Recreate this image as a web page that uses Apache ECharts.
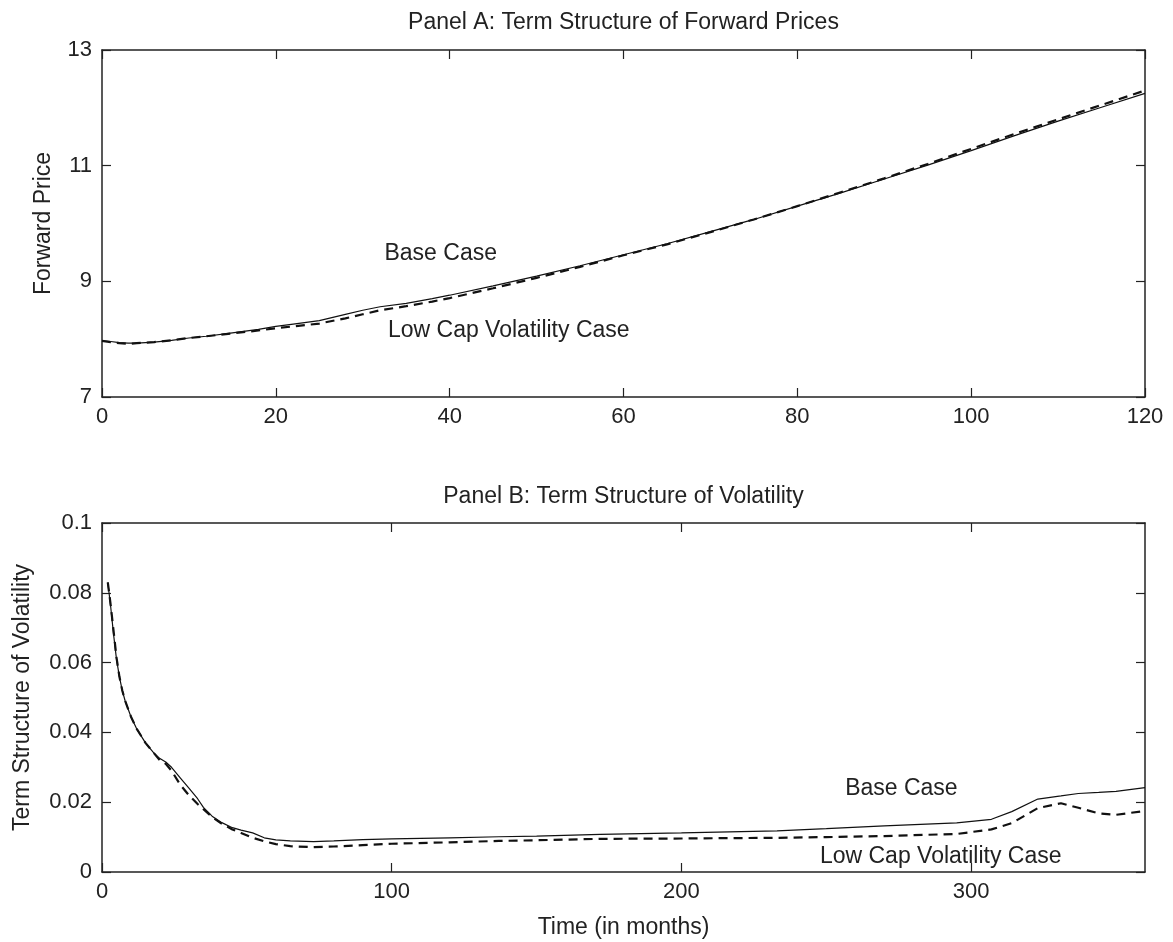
<!DOCTYPE html>
<html>
<head>
<meta charset="utf-8">
<script src="https://cdn.jsdelivr.net/npm/echarts@6/dist/echarts.min.js"></script>
<style>
html,body{margin:0;padding:0;background:#fff;}
#c{width:1173px;height:942px;}
</style>
</head>
<body>
<div id="c"></div>
<script>
// ---- Panel A data: term structure of forward prices ----
const monthsA = [0,1,2,3,4,6,8,10,12,15,18,20,22,25,28,30,32,35,38,40,45,50,55,60,65,70,75,80,85,90,95,100,105,110,115,120];
const baseA   = [7.97,7.96,7.94,7.93,7.93,7.95,7.98,8.02,8.05,8.11,8.17,8.22,8.26,8.32,8.43,8.50,8.56,8.62,8.70,8.76,8.92,9.09,9.27,9.46,9.65,9.86,10.07,10.30,10.53,10.77,11.01,11.26,11.52,11.77,12.01,12.25];
const lowCapA = [7.97,7.95,7.93,7.92,7.93,7.95,7.98,8.02,8.05,8.10,8.15,8.19,8.22,8.27,8.36,8.43,8.50,8.57,8.65,8.71,8.88,9.06,9.25,9.45,9.64,9.85,10.07,10.30,10.54,10.78,11.03,11.29,11.55,11.80,12.05,12.30];

// ---- Panel B data: term structure of volatility ----
const monthsB = [2,3,4,5,6,7,8,10,12,15,18,20,22,24,27,30,33,35,38,41,45,48,52,56,60,65,73,80,90,100,120,137,150,172,200,233,250,270,295,307,314,323,331,337,344,350,360];
const baseB   = [0.083,0.076,0.068,0.061,0.056,0.052,0.049,0.0445,0.041,0.037,0.034,0.0325,0.0315,0.030,0.027,0.024,0.021,0.0185,0.016,0.0143,0.0127,0.012,0.0112,0.0098,0.0092,0.0089,0.0087,0.0089,0.0093,0.0095,0.0098,0.0101,0.0103,0.0108,0.0112,0.0118,0.0124,0.0132,0.0141,0.0151,0.0173,0.0209,0.0218,0.0225,0.0228,0.0231,0.0242];
const lowCapB = [0.083,0.0765,0.069,0.0615,0.056,0.052,0.049,0.0445,0.041,0.037,0.034,0.032,0.031,0.029,0.025,0.022,0.0195,0.018,0.0158,0.014,0.0122,0.0112,0.0098,0.0088,0.008,0.0074,0.0071,0.0073,0.0077,0.0081,0.0085,0.0089,0.0091,0.0095,0.0096,0.0098,0.0100,0.0103,0.0109,0.0122,0.0140,0.0183,0.0197,0.0184,0.0168,0.0164,0.0175];

// ---- ticks & texts ----
const xTicksA = [0,20,40,60,80,100,120];
const yTicksA = [7,9,11,13];
const xTicksB = [0,100,200,300];
const yTicksB = [0,0.02,0.04,0.06,0.08,0.1];
const titleA = 'Panel A: Term Structure of Forward Prices';
const titleB = 'Panel B: Term Structure of Volatility';
const yNameA = 'Forward Price';
const yNameB = 'Term Structure of Volatility';
const xNameB = 'Time (in months)';
const labelBase = 'Base Case';
const labelLow = 'Low Cap Volatility Case';
const annotA = [[32.5, 9.48, labelBase],[32.9, 8.15, labelLow]];
const annotB = [[256.5, 0.024, labelBase],[247.8, 0.0043, labelLow]];

const FONT = '"Liberation Sans", Arial, Helvetica, sans-serif';
const TXT = '#222';
const AX = '#222';

function pairs(xs, ys){ return xs.map((x,i)=>[x, ys[i]]); }

function mainX(grid, min, max, ticks, name){
  return {
    type:'value', gridIndex:grid, min:min, max:max, position:'bottom',
    name: name || '', nameLocation:'middle', nameGap:44,
    nameTextStyle:{fontFamily:FONT, fontSize:23, color:TXT},
    axisLine:{show:true, onZero:false, lineStyle:{color:AX, width:1.5}},
    axisTick:{show:true, inside:true, length:9, customValues:ticks, lineStyle:{color:AX, width:1.2}},
    axisLabel:{show:true, customValues:ticks, margin:9, fontFamily:FONT, fontSize:22, color:TXT},
    splitLine:{show:false}
  };
}
function topX(grid, min, max, ticks){
  return {
    type:'value', gridIndex:grid, min:min, max:max, position:'top',
    axisLine:{show:true, onZero:false, lineStyle:{color:AX, width:1.5}},
    axisTick:{show:true, inside:true, length:9, customValues:ticks, lineStyle:{color:AX, width:1.2}},
    axisLabel:{show:false}, splitLine:{show:false}
  };
}
function mainY(grid, min, max, ticks, name, gap){
  return {
    type:'value', gridIndex:grid, min:min, max:max, position:'left',
    name:name, nameLocation:'middle', nameGap:gap,
    nameTextStyle:{fontFamily:FONT, fontSize:23, color:TXT},
    axisLine:{show:true, onZero:false, lineStyle:{color:AX, width:1.5}},
    axisTick:{show:true, inside:true, length:9, customValues:ticks, lineStyle:{color:AX, width:1.2}},
    axisLabel:{show:true, customValues:ticks, margin:10, fontFamily:FONT, fontSize:22, color:TXT},
    splitLine:{show:false}
  };
}
function rightY(grid, min, max, ticks){
  return {
    type:'value', gridIndex:grid, min:min, max:max, position:'right',
    axisLine:{show:true, onZero:false, lineStyle:{color:AX, width:1.5}},
    axisTick:{show:true, inside:true, length:9, customValues:ticks, lineStyle:{color:AX, width:1.2}},
    axisLabel:{show:false}, splitLine:{show:false}
  };
}
function lineSeries(xi, yi, data, dashed){
  return {
    type:'line', xAxisIndex:xi, yAxisIndex:yi, data:data, showSymbol:false, symbol:'none',
    smooth:false, silent:true, animation:false,
    lineStyle: dashed ? {color:'#111', width:2.2, type:[9,6]} : {color:'#111', width:1.2, type:'solid'}
  };
}
function annotSeries(xi, yi, items){
  return {
    type:'scatter', xAxisIndex:xi, yAxisIndex:yi, symbolSize:0, silent:true, animation:false,
    itemStyle:{opacity:1, color:TXT},
    data: items.map(a=>({value:[a[0],a[1]], label:{formatter:a[2], color:TXT}})),
    label:{show:true, position:'right', distance:0, fontFamily:FONT, fontSize:23, color:TXT, opacity:1}
  };
}

const chart = echarts.init(document.getElementById('c'), null, {renderer:'canvas'});
chart.setOption({
  backgroundColor:'#fff',
  animation:false,
  grid:[
    {left:102, right:28, top:50, height:347},
    {left:102, right:28, top:523, height:349}
  ],
  xAxis:[
    mainX(0, 0, 120, xTicksA, ''),
    topX(0, 0, 120, xTicksA),
    mainX(1, 0, 360, xTicksB, xNameB),
    topX(1, 0, 360, xTicksB)
  ],
  yAxis:[
    mainY(0, 7, 13, yTicksA, yNameA, 47),
    rightY(0, 7, 13, yTicksA),
    mainY(1, 0, 0.1, yTicksB, yNameB, 68),
    rightY(1, 0, 0.1, yTicksB)
  ],
  series:[
    lineSeries(0, 0, pairs(monthsA, baseA), false),
    lineSeries(0, 0, pairs(monthsA, lowCapA), true),
    annotSeries(0, 0, annotA),
    lineSeries(2, 2, pairs(monthsB, baseB), false),
    lineSeries(2, 2, pairs(monthsB, lowCapB), true),
    annotSeries(2, 2, annotB)
  ],
  graphic:[
    {type:'text', x:623.5, y:23, style:{text:titleA, x:0, y:0, textAlign:'center', textVerticalAlign:'middle', fontFamily:FONT, fontSize:23, fill:TXT}},
    {type:'text', x:623.5, y:497, style:{text:titleB, x:0, y:0, textAlign:'center', textVerticalAlign:'middle', fontFamily:FONT, fontSize:23, fill:TXT}}
  ]
});
</script>
</body>
</html>
